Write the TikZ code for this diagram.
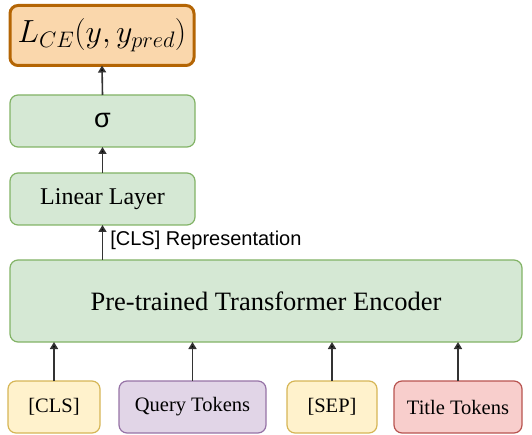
\RequirePackage{fix-cm}
\documentclass[tikz,border=0pt]{standalone}
\usepackage{fontspec}
\setmainfont{Liberation Serif}
\newfontfamily\labelsans{Liberation Sans}
\usetikzlibrary{arrows.meta}

\definecolor{grnfill}{HTML}{D5E8D4}\definecolor{grnline}{HTML}{82B366}
\definecolor{orgfill}{HTML}{FAD7AC}\definecolor{orgline}{HTML}{B46504}
\definecolor{ylwfill}{HTML}{FFF2CC}\definecolor{ylwline}{HTML}{D6B656}
\definecolor{prpfill}{HTML}{E1D5E7}\definecolor{prpline}{HTML}{9673A6}
\definecolor{redfill}{HTML}{F8CECC}\definecolor{redline}{HTML}{B85450}
\definecolor{wire}{HTML}{333333}

\tikzset{
  box/.style={rectangle, rounded corners=8pt, line width=1.2pt, inner sep=0pt, outer sep=0pt, align=center},
  greenbox/.style={box, fill=grnfill, draw=grnline},
  tokbox/.style={box, minimum height=52pt, font=\fontsize{20.5}{24}\selectfont},
  flow/.style={draw=wire, line width=1.6pt, -{Triangle[width=8pt,length=7pt,fill=black]}},
}

\begin{document}
\begin{tikzpicture}[x=1pt, y=-1pt]
\useasboundingbox (0,0) rectangle (532,435);

% classifier head
\node[box, fill=orgfill, draw=orgline, line width=3pt, minimum width=184pt, minimum height=60pt,
      font=\fontsize{32}{36}\selectfont] (loss) at (102,35.5) {$L_{CE}(y, y_{pred})$};
\node[greenbox, minimum width=185pt, minimum height=52pt, font=\labelsans\fontsize{27}{30}\selectfont]
      (sigma) at (102.5,121) {σ};
\node[greenbox, minimum width=185pt, minimum height=52pt, font=\fontsize{24}{28}\selectfont]
      (linear) at (102.5,199) {Linear Layer};

% encoder
\node[greenbox, minimum width=512pt, minimum height=82pt, font=\fontsize{26.5}{30}\selectfont]
      (enc) at (266,301) {Pre-trained Transformer Encoder};

% input tokens
\node[tokbox, minimum width=92pt, fill=ylwfill, draw=ylwline] (cls) at (54,407) {[CLS]};
\node[tokbox, minimum width=147pt, fill=prpfill, draw=prpline] (query) at (192.5,407) {Query Tokens};
\node[tokbox, minimum width=90pt, fill=ylwfill, draw=ylwline] (sep) at (332,407) {[SEP]};
\node[tokbox, minimum width=128pt, fill=redfill, draw=redline] (title) at (458,407) {Title Tokens};

% connectors
\draw[flow] (sigma.north) -- (loss.south);
\draw[flow] (linear.north) -- (sigma.south);
\draw[flow] (linear.south |- enc.north) -- node[right, xshift=6pt, yshift=2pt, font=\labelsans\fontsize{20}{22}\selectfont, inner sep=1pt] {[CLS] Representation} (linear.south);
\foreach \t in {cls, query, sep, title}
  \draw[flow] (\t.north) -- (\t.north |- enc.south);
\end{tikzpicture}
\end{document}
